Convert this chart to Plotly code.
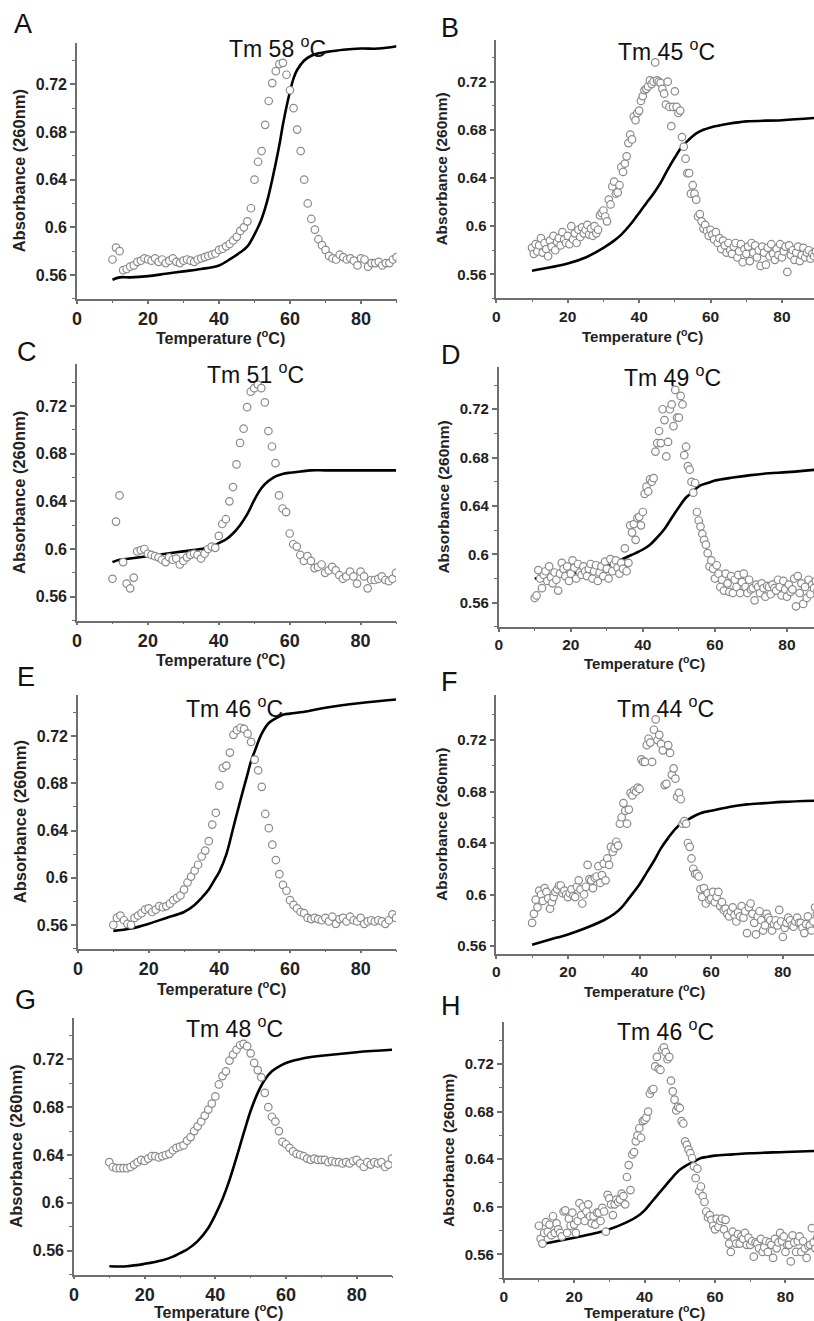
import plotly.graph_objects as go

W, H = 814, 1321
FONT = "Liberation Sans, Arial, sans-serif"

# temperature grids the instrument sampled on
temp_1deg = list(range(10, 91))
temp_half = [t / 2 for t in range(20, 181)]

y_ticks = [0.56, 0.6, 0.64, 0.68, 0.72]
y_tick_labels = ["0.56", "0.6", "0.64", "0.68", "0.72"]
x_ticks = [0, 20, 40, 60, 80]

# ---------------- A ----------------
a_fit_t = [10, 12, 15, 20, 25, 30, 35, 40, 43, 46, 48, 50, 51, 52, 53, 54, 55, 56, 57, 58,
           59, 60, 61, 62, 64, 66, 68, 70, 75, 80, 85, 90]
a_fit_abs = [0.556, 0.558, 0.558, 0.559, 0.561, 0.563, 0.565, 0.568, 0.573, 0.579, 0.584, 0.594,
             0.600, 0.607, 0.616, 0.627, 0.640, 0.654, 0.669, 0.686, 0.701, 0.714, 0.725, 0.732,
             0.740, 0.744, 0.746, 0.747, 0.749, 0.750, 0.750, 0.752]
a_deriv = [0.573, 0.583, 0.580, 0.564, 0.565, 0.567, 0.568, 0.571, 0.572, 0.574,
           0.573, 0.572, 0.574, 0.571, 0.573, 0.570, 0.572, 0.574, 0.571, 0.570,
           0.572, 0.573, 0.572, 0.571, 0.573, 0.574, 0.575, 0.576, 0.577, 0.578,
           0.581, 0.582, 0.584, 0.586, 0.589, 0.592, 0.597, 0.600, 0.605, 0.616,
           0.640, 0.655, 0.664, 0.686, 0.706, 0.721, 0.731, 0.737, 0.738, 0.728,
           0.715, 0.700, 0.682, 0.664, 0.640, 0.620, 0.607, 0.598, 0.590, 0.585,
           0.581, 0.576, 0.574, 0.573, 0.577, 0.575, 0.573, 0.574, 0.572, 0.568,
           0.574, 0.573, 0.567, 0.570, 0.570, 0.571, 0.568, 0.570, 0.570, 0.573, 0.575]

# ---------------- B ----------------
b_fit_t = [10, 20, 25, 30, 33, 35, 38, 40, 42, 44, 46, 48, 50, 52, 54, 56, 58, 60, 65, 70, 80, 90]
b_fit_abs = [0.563, 0.569, 0.574, 0.582, 0.588, 0.593, 0.603, 0.611, 0.619, 0.627, 0.636, 0.647,
             0.657, 0.666, 0.672, 0.677, 0.680, 0.682, 0.685, 0.687, 0.688, 0.690]
b_deriv = [0.582, 0.577, 0.585, 0.579, 0.584, 0.590, 0.578, 0.586, 0.581, 0.575,
           0.588, 0.583, 0.592, 0.580, 0.587, 0.590, 0.584, 0.595, 0.589, 0.586,
           0.592, 0.585, 0.600, 0.589, 0.594, 0.586, 0.597, 0.591, 0.599, 0.594,
           0.597, 0.601, 0.593, 0.598, 0.592, 0.600, 0.594, 0.597, 0.609, 0.611,
           0.613, 0.608, 0.604, 0.622, 0.618, 0.633, 0.637, 0.627, 0.628, 0.634,
           0.649, 0.645, 0.652, 0.658, 0.669, 0.676, 0.672, 0.691, 0.688, 0.694,
           0.696, 0.704, 0.708, 0.713, 0.714, 0.716, 0.721, 0.718, 0.720, 0.736,
           0.721, 0.720, 0.719, 0.714, 0.710, 0.701, 0.720, 0.699, 0.683, 0.699,
           0.712, 0.699, 0.694, 0.696, 0.674, 0.666, 0.656, 0.644, 0.644, 0.627,
           0.634, 0.627, 0.622, 0.608, 0.610, 0.604, 0.598, 0.601, 0.596, 0.592,
           0.597, 0.593, 0.589, 0.595, 0.586, 0.590, 0.581, 0.588, 0.584, 0.578,
           0.586, 0.580, 0.577, 0.583, 0.586, 0.574, 0.579, 0.585, 0.570, 0.581,
           0.577, 0.583, 0.571, 0.586, 0.578, 0.584, 0.574, 0.580, 0.567, 0.583,
           0.578, 0.568, 0.582, 0.575, 0.585, 0.577, 0.572, 0.581, 0.576, 0.585,
           0.574, 0.579, 0.583, 0.562, 0.584, 0.576, 0.580, 0.572, 0.578, 0.583,
           0.571, 0.576, 0.582, 0.574, 0.578, 0.580, 0.573, 0.577, 0.575, 0.579,
           0.576]

# ---------------- C ----------------
c_fit_t = [10, 12, 15, 20, 25, 30, 35, 38, 40, 42, 44, 46, 48, 50, 52, 54, 56, 58, 60, 63, 66,
           70, 75, 80, 85, 90]
c_fit_abs = [0.589, 0.591, 0.592, 0.594, 0.596, 0.598, 0.600, 0.602, 0.605, 0.608, 0.613, 0.620,
             0.629, 0.641, 0.651, 0.657, 0.661, 0.663, 0.664, 0.665, 0.666, 0.666, 0.666, 0.666,
             0.666, 0.666]
c_deriv = [0.575, 0.623, 0.645, 0.589, 0.571, 0.567, 0.576, 0.598, 0.599, 0.600,
           0.596, 0.595, 0.594, 0.593, 0.591, 0.589, 0.593, 0.591, 0.592, 0.587,
           0.590, 0.593, 0.595, 0.596, 0.595, 0.592, 0.596, 0.600, 0.602, 0.601,
           0.611, 0.621, 0.625, 0.640, 0.652, 0.671, 0.689, 0.701, 0.719, 0.732,
           0.735, 0.738, 0.735, 0.723, 0.699, 0.686, 0.672, 0.645, 0.634, 0.631,
           0.613, 0.604, 0.602, 0.595, 0.590, 0.594, 0.590, 0.584, 0.585, 0.587,
           0.580, 0.582, 0.585, 0.582, 0.578, 0.575, 0.577, 0.581, 0.577, 0.571,
           0.581, 0.577, 0.567, 0.574, 0.574, 0.575, 0.577, 0.574, 0.573, 0.575, 0.580]

# ---------------- D ----------------
d_fit_t = [10, 15, 20, 25, 30, 33, 35, 38, 40, 42, 44, 46, 48, 50, 52, 54, 55, 56, 58, 60, 65,
           70, 75, 80, 88]
d_fit_abs = [0.580, 0.582, 0.584, 0.587, 0.590, 0.594, 0.597, 0.601, 0.604, 0.608, 0.614, 0.621,
             0.630, 0.639, 0.647, 0.652, 0.655, 0.657, 0.659, 0.661, 0.6635, 0.6655, 0.667,
             0.668, 0.670]
d_deriv = [0.564, 0.566, 0.587, 0.580, 0.572, 0.583, 0.586, 0.578, 0.590, 0.581,
           0.576, 0.585, 0.579, 0.570, 0.584, 0.593, 0.588, 0.582, 0.590, 0.578,
           0.584, 0.595, 0.589, 0.580, 0.592, 0.585, 0.583, 0.590, 0.586, 0.582,
           0.588, 0.592, 0.580, 0.586, 0.591, 0.578, 0.585, 0.590, 0.582, 0.594,
           0.588, 0.580, 0.596, 0.586, 0.592, 0.595, 0.589, 0.584, 0.593, 0.588,
           0.605, 0.586, 0.593, 0.624, 0.618, 0.625, 0.612, 0.630, 0.631, 0.624,
           0.635, 0.650, 0.656, 0.652, 0.662, 0.660, 0.663, 0.685, 0.692, 0.702,
           0.692, 0.720, 0.711, 0.681, 0.693, 0.720, 0.724, 0.706, 0.736, 0.713,
           0.713, 0.731, 0.724, 0.682, 0.689, 0.673, 0.670, 0.660, 0.651, 0.659,
           0.635, 0.628, 0.623, 0.617, 0.612, 0.608, 0.601, 0.590, 0.595, 0.588,
           0.580, 0.591, 0.584, 0.573, 0.579, 0.570, 0.584, 0.576, 0.569, 0.582,
           0.568, 0.579, 0.573, 0.583, 0.568, 0.577, 0.584, 0.573, 0.568, 0.579,
           0.571, 0.572, 0.562, 0.575, 0.573, 0.568, 0.576, 0.572, 0.565, 0.574,
           0.573, 0.567, 0.575, 0.572, 0.570, 0.579, 0.573, 0.566, 0.578, 0.571,
           0.565, 0.575, 0.569, 0.571, 0.580, 0.557, 0.582, 0.568, 0.576, 0.559,
           0.573, 0.564, 0.579, 0.567, 0.575, 0.572, 0.578, 0.570, 0.574, 0.571,
           0.573]

# ---------------- E ----------------
e_fit_t = [10, 15, 20, 25, 30, 33, 35, 37, 39, 40, 42, 44, 46, 48, 49, 50, 52, 54, 56, 58, 60,
           65, 70, 80, 90]
e_fit_abs = [0.555, 0.557, 0.561, 0.566, 0.571, 0.577, 0.583, 0.590, 0.600, 0.605, 0.620, 0.643,
             0.666, 0.688, 0.699, 0.707, 0.722, 0.731, 0.735, 0.738, 0.739, 0.741, 0.744, 0.748,
             0.751]
e_deriv = [0.560, 0.566, 0.568, 0.564, 0.561, 0.560, 0.566, 0.568, 0.570, 0.573,
           0.574, 0.571, 0.573, 0.576, 0.575, 0.576, 0.578, 0.581, 0.583, 0.585,
           0.590, 0.596, 0.601, 0.606, 0.611, 0.618, 0.623, 0.631, 0.645, 0.655,
           0.678, 0.693, 0.695, 0.706, 0.721, 0.725, 0.727, 0.726, 0.722, 0.715,
           0.700, 0.691, 0.677, 0.654, 0.642, 0.628, 0.615, 0.603, 0.594, 0.589,
           0.581, 0.577, 0.574, 0.571, 0.570, 0.566, 0.565, 0.566, 0.565, 0.564,
           0.566, 0.563, 0.567, 0.561, 0.565, 0.566, 0.563, 0.567, 0.564, 0.563,
           0.566, 0.561, 0.563, 0.564, 0.563, 0.564, 0.563, 0.561, 0.564, 0.569, 0.566]

# ---------------- F ----------------
f_fit_t = [10, 15, 20, 25, 30, 33, 35, 37, 40, 42, 44, 46, 48, 50, 52, 54, 56, 58, 60, 65, 70,
           75, 80, 90]
f_fit_abs = [0.561, 0.565, 0.569, 0.574, 0.580, 0.585, 0.590, 0.597, 0.608, 0.617, 0.626, 0.636,
             0.644, 0.651, 0.656, 0.659, 0.662, 0.664, 0.665, 0.668, 0.670, 0.671, 0.672, 0.673]
f_deriv = [0.578, 0.585, 0.596, 0.590, 0.603, 0.600, 0.595, 0.605, 0.602, 0.597,
           0.589, 0.594, 0.598, 0.602, 0.604, 0.607, 0.607, 0.601, 0.603, 0.600,
           0.598, 0.601, 0.604, 0.599, 0.598, 0.606, 0.611, 0.604, 0.593, 0.600,
           0.606, 0.623, 0.612, 0.611, 0.605, 0.613, 0.614, 0.622, 0.609, 0.615,
           0.624, 0.611, 0.628, 0.623, 0.637, 0.633, 0.636, 0.641, 0.638, 0.655,
           0.660, 0.671, 0.665, 0.655, 0.666, 0.679, 0.677, 0.681, 0.680, 0.683,
           0.682, 0.705, 0.703, 0.703, 0.716, 0.721, 0.718, 0.703, 0.728, 0.736,
           0.720, 0.724, 0.717, 0.712, 0.685, 0.686, 0.716, 0.710, 0.693, 0.698,
           0.690, 0.676, 0.679, 0.674, 0.655, 0.657, 0.655, 0.640, 0.637, 0.628,
           0.620, 0.616, 0.616, 0.614, 0.604, 0.598, 0.605, 0.593, 0.601, 0.596,
           0.597, 0.602, 0.594, 0.598, 0.602, 0.591, 0.594, 0.588, 0.589, 0.585,
           0.583, 0.587, 0.590, 0.584, 0.579, 0.586, 0.583, 0.591, 0.582, 0.587,
           0.570, 0.590, 0.593, 0.585, 0.578, 0.569, 0.583, 0.587, 0.580, 0.572,
           0.576, 0.585, 0.582, 0.580, 0.572, 0.577, 0.580, 0.576, 0.588, 0.579,
           0.567, 0.574, 0.578, 0.582, 0.580, 0.576, 0.575, 0.579, 0.582, 0.578,
           0.578, 0.574, 0.570, 0.577, 0.583, 0.576, 0.572, 0.579, 0.590, 0.585,
           0.580]

# ---------------- G ----------------
g_fit_t = [10, 15, 20, 25, 28, 30, 32, 35, 38, 40, 42, 44, 46, 48, 50, 52, 54, 56, 58, 60, 65,
           70, 80, 90]
g_fit_abs = [0.547, 0.547, 0.549, 0.552, 0.555, 0.558, 0.561, 0.568, 0.579, 0.590, 0.603, 0.619,
             0.638, 0.658, 0.677, 0.692, 0.703, 0.710, 0.714, 0.717, 0.721, 0.723, 0.726, 0.728]
g_deriv = [0.634, 0.630, 0.629, 0.629, 0.629, 0.629, 0.630, 0.632, 0.634, 0.636,
           0.635, 0.637, 0.639, 0.639, 0.638, 0.639, 0.640, 0.641, 0.644, 0.646,
           0.647, 0.648, 0.652, 0.655, 0.660, 0.664, 0.668, 0.673, 0.678, 0.683,
           0.689, 0.699, 0.706, 0.710, 0.719, 0.724, 0.728, 0.732, 0.733, 0.731,
           0.725, 0.717, 0.711, 0.705, 0.692, 0.680, 0.672, 0.668, 0.660, 0.651,
           0.649, 0.646, 0.643, 0.641, 0.640, 0.639, 0.637, 0.636, 0.637, 0.636,
           0.636, 0.636, 0.634, 0.635, 0.634, 0.634, 0.633, 0.634, 0.633, 0.635,
           0.636, 0.633, 0.630, 0.634, 0.632, 0.634, 0.633, 0.634, 0.630, 0.632, 0.637]

# ---------------- H ----------------
h_fit_t = [10, 15, 20, 25, 30, 35, 38, 40, 42, 44, 46, 48, 50, 52, 54, 56, 58, 60, 65, 70, 80, 90]
h_fit_abs = [0.568, 0.571, 0.574, 0.577, 0.581, 0.587, 0.592, 0.597, 0.604, 0.611, 0.618, 0.625,
             0.631, 0.635, 0.638, 0.641, 0.642, 0.643, 0.644, 0.645, 0.646, 0.647]
h_deriv = [0.584, 0.573, 0.569, 0.578, 0.587, 0.579, 0.585, 0.576, 0.592, 0.578,
           0.586, 0.581, 0.578, 0.575, 0.596, 0.597, 0.578, 0.590, 0.584, 0.595,
           0.585, 0.578, 0.588, 0.603, 0.593, 0.600, 0.588, 0.596, 0.602, 0.592,
           0.586, 0.592, 0.585, 0.595, 0.595, 0.588, 0.599, 0.596, 0.579, 0.610,
           0.607, 0.602, 0.593, 0.602, 0.606, 0.604, 0.606, 0.611, 0.609, 0.602,
           0.625, 0.635, 0.614, 0.644, 0.646, 0.655, 0.660, 0.666, 0.658, 0.672,
           0.673, 0.675, 0.680, 0.695, 0.698, 0.699, 0.718, 0.726, 0.716, 0.715,
           0.732, 0.734, 0.730, 0.724, 0.726, 0.706, 0.697, 0.690, 0.681, 0.684,
           0.683, 0.672, 0.670, 0.655, 0.652, 0.648, 0.645, 0.641, 0.634, 0.624,
           0.632, 0.613, 0.617, 0.609, 0.604, 0.596, 0.591, 0.593, 0.589, 0.584,
           0.581, 0.590, 0.583, 0.588, 0.590, 0.581, 0.589, 0.576, 0.569, 0.562,
           0.579, 0.573, 0.569, 0.577, 0.569, 0.575, 0.573, 0.578, 0.568, 0.574,
           0.568, 0.571, 0.558, 0.570, 0.569, 0.565, 0.573, 0.562, 0.566, 0.571,
           0.562, 0.570, 0.568, 0.557, 0.573, 0.565, 0.570, 0.578, 0.571, 0.575,
           0.562, 0.568, 0.568, 0.554, 0.576, 0.570, 0.562, 0.571, 0.575, 0.562,
           0.571, 0.565, 0.557, 0.567, 0.568, 0.582, 0.570, 0.565, 0.574, 0.568,
           0.570]

# panel frames in pixels: (y-axis x, right edge, top, x-axis y), x max, y min, left column?
panels = [
    dict(letter="A", tm="58", fit=(a_fit_t, a_fit_abs), deriv=(temp_1deg, a_deriv),
         box=(77, 396.5, 42.6, 298.8), xmax=90, ymin=0.54, left=True,
         tm_pos=(277, 47), letter_pos=(12, 24), xt_pos=(220, 337)),
    dict(letter="B", tm="45", fit=(b_fit_t, b_fit_abs), deriv=(temp_half, b_deriv),
         box=(496.3, 814, 39.5, 298.4), xmax=88.97, ymin=0.54, left=False,
         tm_pos=(666, 50), letter_pos=(439, 28), xt_pos=(642, 336)),
    dict(letter="C", tm="51", fit=(c_fit_t, c_fit_abs), deriv=(temp_1deg, c_deriv),
         box=(77, 396, 364.3, 620.5), xmax=90, ymin=0.54, left=True,
         tm_pos=(255, 373), letter_pos=(15, 352), xt_pos=(220, 659)),
    dict(letter="D", tm="49", fit=(d_fit_t, d_fit_abs), deriv=(temp_half, d_deriv),
         box=(498.7, 814, 366.9, 626.9), xmax=87.5, ymin=0.54, left=False,
         tm_pos=(672, 376), letter_pos=(439, 355), xt_pos=(644, 662)),
    dict(letter="E", tm="46", fit=(e_fit_t, e_fit_abs), deriv=(temp_1deg, e_deriv),
         box=(78, 396, 694.7, 948.6), xmax=90, ymin=0.54, left=True,
         tm_pos=(234, 707), letter_pos=(15, 677), xt_pos=(222, 988)),
    dict(letter="F", tm="44", fit=(f_fit_t, f_fit_abs), deriv=(temp_half, f_deriv),
         box=(496.3, 814, 695, 953.7), xmax=88.7, ymin=0.554, left=False,
         tm_pos=(665, 707), letter_pos=(439, 682), xt_pos=(644, 991)),
    dict(letter="G", tm="48", fit=(g_fit_t, g_fit_abs), deriv=(temp_1deg, g_deriv),
         box=(74, 392, 1017.5, 1274.6), xmax=90, ymin=0.54, left=True,
         tm_pos=(235, 1027), letter_pos=(13, 1000), xt_pos=(218, 1311)),
    dict(letter="H", tm="46", fit=(h_fit_t, h_fit_abs), deriv=(temp_half, h_deriv),
         box=(503.7, 814, 1022.4, 1278.1), xmax=88.1, ymin=0.54, left=False,
         tm_pos=(665, 1030), letter_pos=(439, 1006), xt_pos=(644, 1311)),
]

AXIS_COLOR = "#6e6e6e"

fig = go.Figure()
annotations = []

for i, p in enumerate(panels):
    n = "" if i == 0 else str(i + 1)
    xa, ya = "x" + n, "y" + n

    fig.add_trace(go.Scatter(
        x=p["fit"][0], y=p["fit"][1], mode="lines", line_shape="spline",
        line=dict(color="black", width=2.6), xaxis=xa, yaxis=ya, showlegend=False
    ))
    fig.add_trace(go.Scatter(
        x=p["deriv"][0], y=p["deriv"][1], mode="markers",
        marker=dict(symbol="circle", size=7.5, color="white",
                    line=dict(color="#8a8a8a", width=1.2)),
        xaxis=xa, yaxis=ya, showlegend=False
    ))

    x0, x1, top, bot = p["box"]
    if p["left"]:
        xtick_size, ytick_size, title_size = 18, 16, 16
    else:
        xtick_size, ytick_size, title_size = 15.5, 15, 15

    fig.layout["xaxis" + n] = dict(
        domain=[x0 / W, min(x1 / W, 1.0)], range=[0, p["xmax"]], anchor=ya,
        tickvals=x_ticks, ticks="outside", ticklen=3, tickwidth=1.5, tickcolor=AXIS_COLOR,
        minor=dict(dtick=10, tick0=0, ticks="outside", ticklen=2, tickwidth=1.2,
                   tickcolor=AXIS_COLOR),
        showline=True, linecolor=AXIS_COLOR, linewidth=1.6,
        showgrid=False, zeroline=False, automargin=False,
        tickfont=dict(family=FONT, size=xtick_size, color="#222", weight="bold"),
    )
    fig.layout["yaxis" + n] = dict(
        domain=[1 - bot / H, 1 - top / H], range=[p["ymin"], 0.755], anchor=xa,
        tickvals=y_ticks, ticktext=y_tick_labels,
        ticks="outside", ticklen=5, tickwidth=1.5, tickcolor=AXIS_COLOR,
        minor=dict(dtick=0.02, tick0=0.54, ticks="outside", ticklen=3, tickwidth=1.2,
                   tickcolor=AXIS_COLOR),
        showline=True, linecolor=AXIS_COLOR, linewidth=1.6,
        showgrid=False, zeroline=False, automargin=False,
        tickfont=dict(family=FONT, size=ytick_size, color="#222", weight="bold"),
        title=dict(text="Absorbance (260nm)", standoff=6,
                   font=dict(family=FONT, size=title_size + 0.5, color="#222",
                             weight="bold")),
    )

    # x-axis title placed by hand so the bottom row stays clear of its tick labels
    xt, yt = p["xt_pos"]
    annotations.append(dict(
        text="Temperature (<sup>o</sup>C)", x=xt / W, y=1 - yt / H,
        xref="paper", yref="paper", xanchor="center", yanchor="middle", showarrow=False,
        font=dict(family=FONT, size=title_size, color="#222", weight="bold")
    ))
    tx, ty = p["tm_pos"]
    annotations.append(dict(
        text="Tm " + p["tm"] + " <sup>o</sup>C", x=tx / W, y=1 - ty / H,
        xref="paper", yref="paper", xanchor="center", yanchor="middle", showarrow=False,
        font=dict(family=FONT, size=23, color="#111")
    ))
    lx, ly = p["letter_pos"]
    annotations.append(dict(
        text=p["letter"], x=lx / W, y=1 - ly / H,
        xref="paper", yref="paper", xanchor="left", yanchor="middle", showarrow=False,
        font=dict(family=FONT, size=27, color="#111")
    ))

fig.update_layout(
    width=W, height=H,
    margin=dict(l=0, r=0, t=0, b=0),
    paper_bgcolor="white", plot_bgcolor="white",
    annotations=annotations,
)

fig.write_html("out.html", config=dict(displayModeBar=False),
               post_script="document.body.style.margin='0';")
